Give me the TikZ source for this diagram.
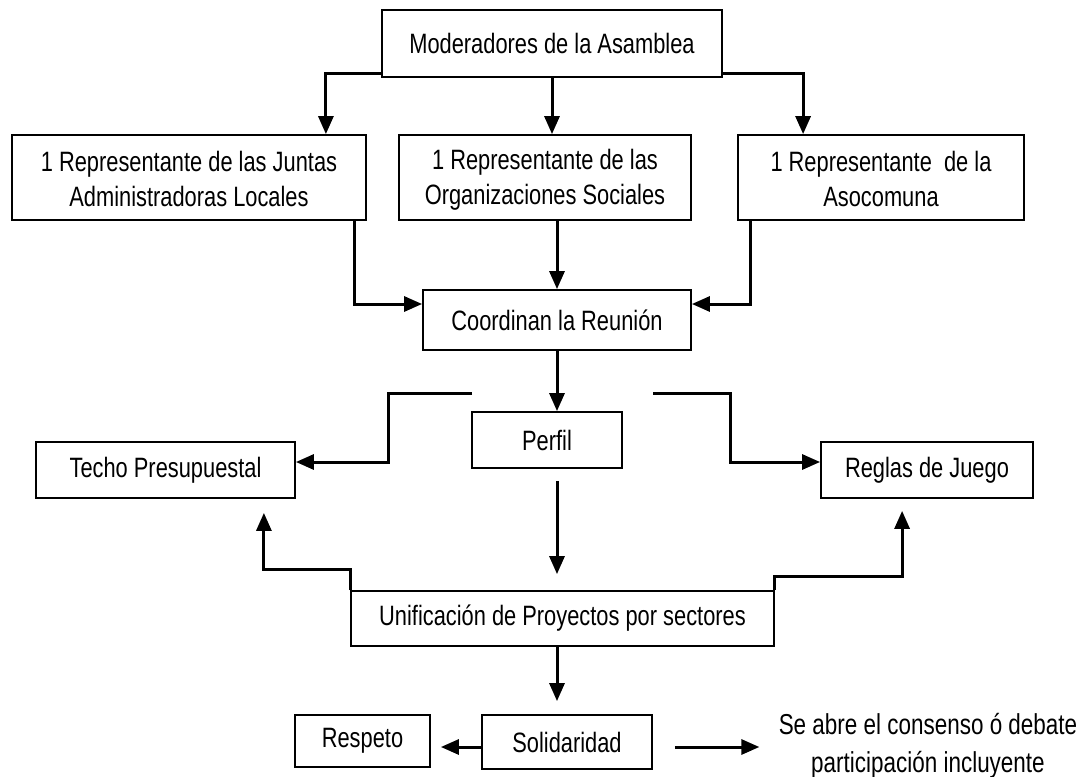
\documentclass[tikz,border=0pt]{standalone}
\usepackage{fontspec}
\setmainfont{Liberation Sans}[FakeStretch=0.78]
\usetikzlibrary{arrows.meta}
\begin{document}
\begin{tikzpicture}[x=0.5pt,y=-0.5pt,
 box/.style={draw,line width=0.9pt,inner sep=0pt,align=center,font=\fontsize{14}{17.5}\selectfont},
 arr/.style={line width=1.5pt,-{Triangle[length=9pt,width=7.5pt]}},
 plain/.style={inner sep=0pt,align=center,font=\fontsize{14.4}{19}\selectfont}]
\useasboundingbox (0,0) rectangle (1078,777);
\node[box,minimum width=170pt,minimum height=33.5pt] (mod) at (552,43.5) {Moderadores de la Asamblea};
\node[box,minimum width=177pt,minimum height=42.5pt] (j1) at (189,177.5) {\rule{0pt}{12pt}1 Representante de las Juntas\\Administradoras Locales};
\node[box,minimum width=146pt,minimum height=42.5pt] (j2) at (545,177.5) {\rule{0pt}{12pt}1 Representante de las\\Organizaciones Sociales};
\node[box,minimum width=143pt,minimum height=42.5pt] (j3) at (881,177.5) {\rule{0pt}{12pt}1 Representante\ \ de la\\Asocomuna};
\node[box,minimum width=134pt,minimum height=30pt] (reunion) at (557,320) {Coordinan la Reunión};
\node[box,minimum width=75pt,minimum height=28pt] (perfil) at (547,440) {Perfil};
\node[box,minimum width=129.5pt,minimum height=28pt] (techo) at (165.5,470) {Techo Presupuestal};
\node[box,minimum width=106pt,minimum height=28pt] (reglas) at (927,470) {Reglas de Juego};
\node[box,minimum width=211.5pt,minimum height=27.5pt] (unif) at (562.5,618.5) {Unificación de Proyectos por sectores};
\node[box,minimum width=85pt,minimum height=27pt] (solid) at (567,742) {Solidaridad};
\node[box,minimum width=67.5pt,minimum height=26pt] (resp) at (362.5,741) {Respeto};
\node[plain] (cons) at (928,746) {Se abre el consenso ó debate\\participación incluyente};
\coordinate (tl) at (472,393);
\coordinate (tr) at (653,393);
\draw[arr] ([yshift=2pt]mod.south west) -| ([xshift=-20.5pt]j1.north east);
\draw[arr] (mod.south) -- (mod.south |- j2.north);
\draw[arr] ([yshift=2pt]mod.south east) -| ([xshift=33pt]j3.north west);
\draw[arr] ([xshift=-6pt]j1.south east) |- ([yshift=8pt]reunion.west);
\draw[arr] (reunion.north |- j2.south) -- (reunion.north);
\draw[arr] ([xshift=6.5pt]j3.south west) |- ([yshift=8pt]reunion.east);
\draw[arr] (reunion.south) -- (reunion.south |- perfil.north);
\draw[arr] (tl) -- ++(-84,0) |- ([yshift=4pt]techo.east);
\draw[arr] (tr) -- ++(77,0) |- ([yshift=4pt]reglas.west);
\draw[arr,shorten <=6pt,shorten >=8pt] (reunion.south |- perfil.south) -- (reunion.south |- unif.north);
\draw[arr,shorten >=7pt] (unif.north west) -- ++(0,-21) -| ([xshift=-16pt]techo.south east);
\draw[arr,shorten >=6pt] (unif.north east) -- ++(0,-14) -| ([xshift=41pt]reglas.south west);
\draw[arr,shorten >=6.5pt] (reunion.south |- unif.south) -- (reunion.south |- solid.north);
\draw[arr,shorten >=5pt] ([yshift=-2.5pt]solid.west) -- ([yshift=-2.5pt]solid.west -| resp.east);
\draw[arr,shorten <=11pt,shorten >=9.5pt] ([yshift=-2.5pt]solid.east) -- ([yshift=-2.5pt]solid.east -| cons.west);
\end{tikzpicture}
\end{document}
